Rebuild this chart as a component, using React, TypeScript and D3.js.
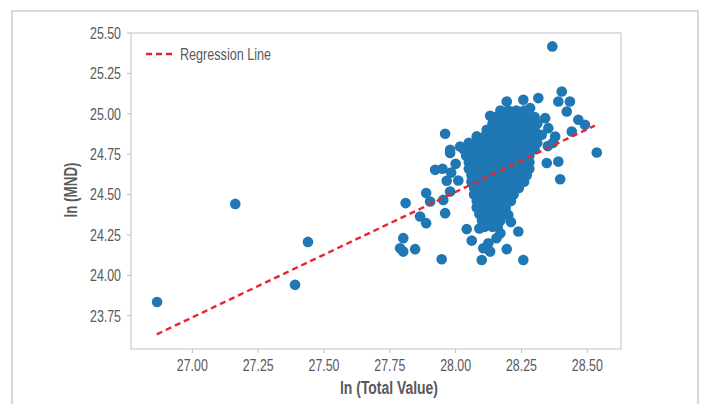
import React from "react";
import * as d3 from "d3";

const xTicks = [27.0, 27.25, 27.5, 27.75, 28.0, 28.25, 28.5];
const yTicks = [23.75, 24.0, 24.25, 24.5, 24.75, 25.0, 25.25, 25.5];

const regression: [number, number][] = [
  [26.865, 23.635],
  [28.529, 24.927],
];

// isolated / peripheral observations [ln(Total Value), ln(MND)]
const outerPoints: [number, number][] = [
  [26.866, 23.835], [27.163, 24.442], [27.39, 23.941], [27.439, 24.207],
  [28.367, 25.417], [28.536, 24.76],
  [27.922, 24.653], [27.983, 24.636], [27.966, 24.585], [28.01, 24.587],
  [27.888, 24.509], [27.903, 24.457], [27.81, 24.447], [27.953, 24.467],
  [27.979, 24.519], [27.96, 24.385], [27.865, 24.364], [27.888, 24.323],
  [28.042, 24.286], [28.061, 24.215], [27.801, 24.23], [27.789, 24.168],
  [27.801, 24.147], [27.846, 24.162], [27.947, 24.1], [28.099, 24.095],
  [28.124, 24.199], [28.105, 24.168], [28.131, 24.147],
  [28.2, 24.374], [28.238, 24.271], [28.194, 24.162], [28.257, 24.095],
  [28.346, 24.695], [28.39, 24.704], [28.397, 24.595],
  [28.403, 25.138], [28.39, 25.076], [28.434, 25.076], [28.422, 25.014],
  [28.466, 24.963], [28.491, 24.932], [28.441, 24.89],
  [28.194, 25.076], [28.257, 25.087], [28.314, 25.097], [28.283, 25.035],
  [28.34, 24.973], [28.352, 24.911], [28.378, 24.859], [28.327, 24.87],
  [28.131, 24.988], [27.96, 24.876], [28.118, 24.901], [28.103, 24.849],
  [27.979, 24.777], [28.017, 24.797], [28.055, 24.777], [27.979, 24.757],
  [27.95, 24.66], [28.0, 24.69], [28.35, 24.8], [28.37, 24.82],
  [28.155, 24.23], [28.17, 24.26], [28.09, 24.29], [28.21, 24.33],
];

// dense core of the cloud, row by row: [ln(MND), ln(Total Value) values]
const coreRows: [number, number[]][] = [
  [25.02, [28.17, 28.2, 28.23, 28.26]],
  [24.98, [28.15, 28.18, 28.21, 28.24, 28.27, 28.3]],
  [24.94, [28.14, 28.17, 28.2, 28.23, 28.26, 28.29, 28.31]],
  [24.9, [28.13, 28.16, 28.19, 28.22, 28.25, 28.28, 28.3]],
  [24.86, [28.08, 28.11, 28.14, 28.17, 28.2, 28.23, 28.26, 28.29, 28.31]],
  [24.82, [28.05, 28.08, 28.11, 28.14, 28.17, 28.2, 28.23, 28.26, 28.29, 28.31]],
  [24.78, [28.03, 28.06, 28.09, 28.12, 28.15, 28.18, 28.21, 28.24, 28.27, 28.3]],
  [24.74, [28.04, 28.07, 28.1, 28.13, 28.16, 28.19, 28.22, 28.25, 28.28]],
  [24.7, [28.05, 28.08, 28.11, 28.14, 28.17, 28.2, 28.23, 28.26, 28.28]],
  [24.66, [28.05, 28.08, 28.11, 28.14, 28.17, 28.2, 28.23, 28.26, 28.28]],
  [24.62, [28.06, 28.09, 28.12, 28.15, 28.18, 28.21, 28.24, 28.27]],
  [24.58, [28.06, 28.09, 28.12, 28.15, 28.18, 28.21, 28.24, 28.26]],
  [24.54, [28.07, 28.1, 28.13, 28.16, 28.19, 28.22, 28.24]],
  [24.5, [28.07, 28.1, 28.13, 28.16, 28.19, 28.22]],
  [24.46, [28.08, 28.11, 28.14, 28.17, 28.2, 28.21]],
  [24.42, [28.08, 28.11, 28.14, 28.17, 28.19]],
  [24.38, [28.09, 28.12, 28.15, 28.18]],
  [24.34, [28.1, 28.13, 28.16, 28.17]],
  [24.3, [28.11, 28.14, 28.16]],
];

const W = 702;
const H = 404;
const plot = { left: 131, right: 621, top: 33, bottom: 349 };
const FONT = "'Liberation Sans', Arial, sans-serif";
const TEXT = "#58595b";

export default function App() {
  const x = d3.scaleLinear().domain([26.767, 28.628]).range([plot.left, plot.right]);
  const y = d3.scaleLinear().domain([23.544, 25.5]).range([plot.bottom, plot.top]);

  const corePoints: [number, number][] = coreRows.flatMap(([yy, xs]) =>
    xs.map((xx) => [xx, yy] as [number, number])
  );
  const points = [...corePoints, ...outerPoints];
  const line = d3
    .line<[number, number]>()
    .x((d) => x(d[0]))
    .y((d) => y(d[1]));

  return (
    <svg
      width={W}
      height={H}
      style={{ position: "absolute", left: 0, top: 0, background: "#fff" }}
      fontFamily={FONT}
    >
      <rect x={12} y={11} width={686} height={H + 20} fill="none" stroke="#d6d9dd" strokeWidth={2} />
      <rect
        x={plot.left}
        y={plot.top}
        width={plot.right - plot.left}
        height={plot.bottom - plot.top}
        fill="#fff"
        stroke="#c9cdd2"
        strokeWidth={1.2}
      />
      {yTicks.map((t) => (
        <g key={"y" + t}>
          <line x1={plot.left - 4} x2={plot.left} y1={y(t)} y2={y(t)} stroke="#b9bdc2" />
          <text
            x={121}
            y={y(t)}
            dy="0.36em"
            textAnchor="end"
            fontSize={16.5}
            fill={TEXT}
            textLength={31}
            lengthAdjust="spacingAndGlyphs"
          >
            {t.toFixed(2)}
          </text>
        </g>
      ))}
      {xTicks.map((t) => (
        <g key={"x" + t}>
          <line x1={x(t)} x2={x(t)} y1={plot.bottom} y2={plot.bottom + 4} stroke="#b9bdc2" />
          <text
            x={x(t)}
            y={365}
            dy="0.36em"
            textAnchor="middle"
            fontSize={16.5}
            fill={TEXT}
            textLength={31}
            lengthAdjust="spacingAndGlyphs"
          >
            {t.toFixed(2)}
          </text>
        </g>
      ))}
      <text
        x={389}
        y={388}
        dy="0.36em"
        textAnchor="middle"
        fontSize={17.5}
        fontWeight="bold"
        fill={TEXT}
        textLength={98}
        lengthAdjust="spacingAndGlyphs"
      >
        ln (Total Value)
      </text>
      <text
        transform={`translate(71,190) rotate(-90)`}
        dy="0.36em"
        textAnchor="middle"
        fontSize={17.5}
        fontWeight="bold"
        fill={TEXT}
        textLength={55}
        lengthAdjust="spacingAndGlyphs"
      >
        ln (MND)
      </text>
      <g>
        {points.map((p, i) => (
          <circle key={i} cx={x(p[0])} cy={y(p[1])} r={5.3} fill="#1f77b4" />
        ))}
      </g>
      <path
        d={line(regression) || ""}
        fill="none"
        stroke="#e8262a"
        strokeWidth={2.4}
        strokeDasharray="6,4"
      />
      <line x1={146} x2={174} y1={54} y2={54} stroke="#e8262a" strokeWidth={2.4} strokeDasharray="6,4" />
      <text
        x={180}
        y={54}
        dy="0.36em"
        fontSize={16.5}
        fill={TEXT}
        textLength={91}
        lengthAdjust="spacingAndGlyphs"
      >
        Regression Line
      </text>
    </svg>
  );
}
